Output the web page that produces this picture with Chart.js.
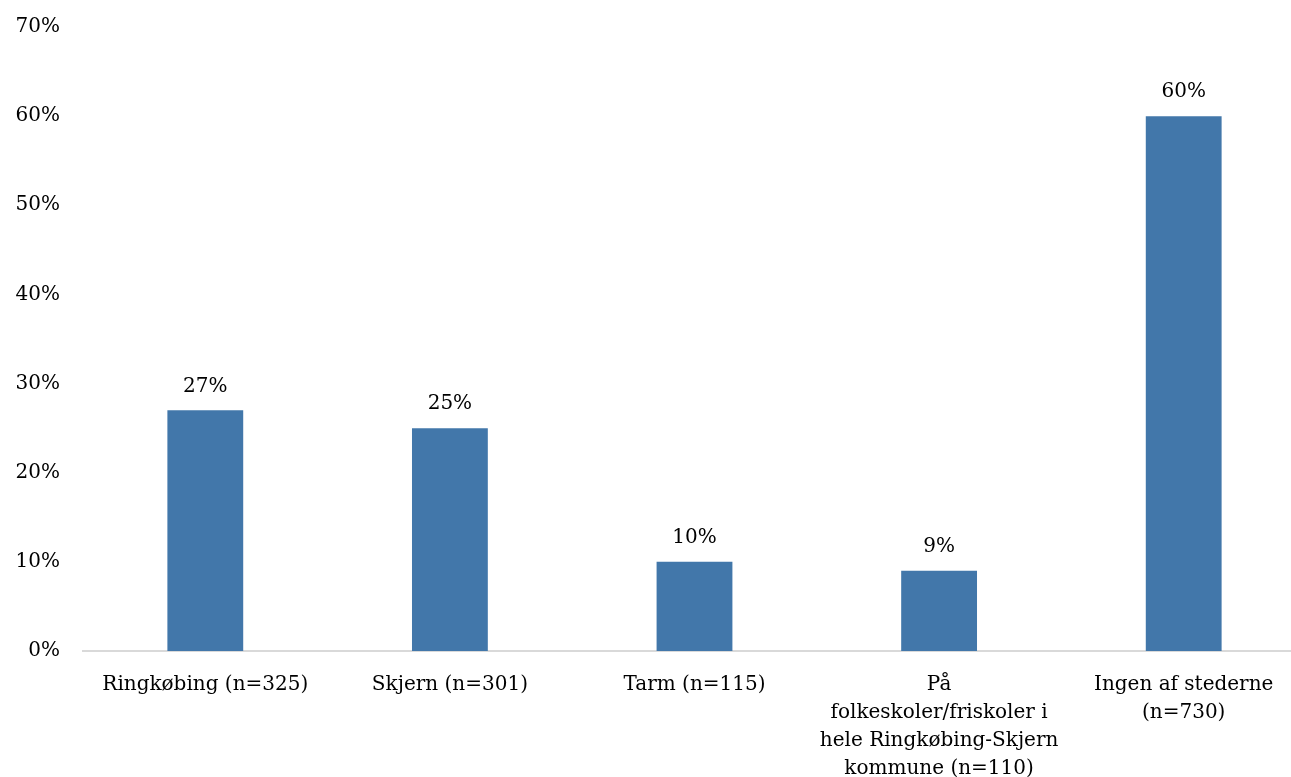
<!DOCTYPE html>
<html>
<head>
<meta charset="utf-8">
<script src="https://cdn.jsdelivr.net/npm/chart.js@4.4.1/dist/chart.umd.min.js"></script>
<style>
  html, body { margin: 0; padding: 0; background: #fff; overflow: hidden; }
  #wrap { width: 1306px; height: 785px; margin-top: -8px; }
</style>
</head>
<body>
<div id="wrap"><canvas id="chart"></canvas></div>
<script>
// ===== Data =====
const categories = [
  "Ringkøbing (n=325)",
  "Skjern (n=301)",
  "Tarm (n=115)",
  ["På", "folkeskoler/friskoler i", "hele Ringkøbing-Skjern", "kommune (n=110)"],
  ["Ingen af stederne", "(n=730)"]
];
const values = [27, 25, 10, 9, 60];
const yTicks = [0, 10, 20, 30, 40, 50, 60, 70];

const FONT = "'DejaVu Serif', serif";
const barColor = "#4277AA";

// ===== Labels above bars =====
const valueLabels = {
  id: "valueLabels",
  afterDatasetsDraw(chart) {
    const ctx = chart.ctx;
    const meta = chart.getDatasetMeta(0);
    ctx.save();
    ctx.font = "20px " + FONT;
    ctx.fillStyle = "#000";
    ctx.textAlign = "center";
    ctx.textBaseline = "bottom";
    meta.data.forEach((bar, i) => {
      ctx.fillText(values[i] + "%", bar.x, bar.y - 14);
    });
    ctx.restore();
  }
};

// ===== Chart =====
new Chart(document.getElementById("chart"), {
  type: "bar",
  data: {
    labels: categories,
    datasets: [{
      data: values,
      backgroundColor: barColor,
      barPercentage: 0.31,
      categoryPercentage: 1
    }]
  },
  options: {
    responsive: true,
    maintainAspectRatio: false,
    animation: false,
    layout: { padding: { top: 16, bottom: 0, left: 0, right: 0 } },
    plugins: { legend: { display: false }, tooltip: { enabled: false } },
    scales: {
      x: {
        grid: { display: false, drawTicks: false },
        border: { display: true, color: "#d9d9d9", width: 2 },
        ticks: {
          color: "#000",
          padding: 20,
          maxRotation: 0,
          autoSkip: false,
          font: { family: FONT, size: 20, lineHeight: 1.4 }
        },
        afterFit(scale) { scale.height = 126; }
      },
      y: {
        min: 0,
        max: 70,
        afterBuildTicks(scale) { scale.ticks = yTicks.map(v => ({ value: v })); },
        grid: { display: false, drawTicks: false },
        border: { display: false },
        ticks: {
          color: "#000",
          padding: 23,
          font: { family: FONT, size: 20 },
          callback: v => v + "%"
        },
        afterFit(scale) { scale.width = 83; }
      }
    }
  },
  plugins: [valueLabels]
});
</script>
</body>
</html>
